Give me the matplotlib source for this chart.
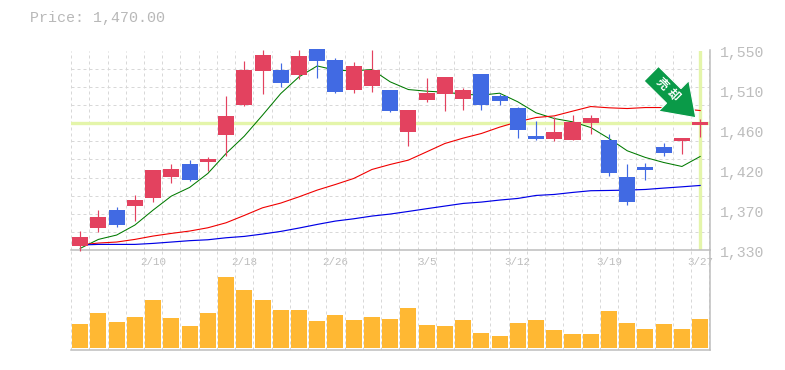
import numpy as np
import matplotlib
matplotlib.use("Agg")
import matplotlib.pyplot as plt
from matplotlib.patches import FancyArrow
from matplotlib.transforms import IdentityTransform, ScaledTranslation

# daily prices
opens = [1334.7, 1354.5, 1374.3, 1378.7, 1387.5, 1410.6, 1424.9, 1427.1, 1456.8, 1489.8, 1527.2, 1528.3,
         1522.8, 1551.4, 1539.3, 1506.3, 1510.7, 1506.3, 1460.1, 1495.3, 1501.9, 1496.4, 1523.9, 1499.7,
         1486.5, 1455.7, 1452.4, 1451.3, 1470.0, 1451.3, 1410.6, 1421.6, 1443.6, 1450.2, 1467.8]
closes = [1344.6, 1366.6, 1357.8, 1385.3, 1418.3, 1419.4, 1407.3, 1430.4, 1477.7, 1528.3, 1544.8, 1514.0,
          1543.7, 1538.2, 1504.1, 1532.7, 1528.3, 1483.2, 1484.3, 1503.0, 1520.6, 1506.3, 1489.8, 1494.2,
          1462.3, 1452.4, 1460.1, 1471.1, 1475.5, 1415.0, 1383.1, 1418.3, 1437.0, 1453.5, 1471.1]
highs = [1351.2, 1374.3, 1377.6, 1390.8, 1418.3, 1424.9, 1429.3, 1432.6, 1499.7, 1538.2, 1550.3, 1536.0,
         1550.3, 1551.4, 1541.5, 1537.1, 1550.3, 1506.3, 1484.3, 1519.5, 1520.6, 1508.5, 1523.9, 1501.9,
         1487.6, 1472.2, 1476.6, 1478.8, 1478.8, 1457.9, 1424.9, 1426.0, 1448.0, 1453.5, 1474.4]
lows = [1329.5, 1350.1, 1355.6, 1362.2, 1383.1, 1404.0, 1406.2, 1416.8, 1433.7, 1488.7, 1501.9, 1509.6,
        1518.4, 1519.5, 1503.0, 1503.0, 1504.1, 1482.1, 1444.7, 1493.1, 1483.2, 1484.3, 1484.3, 1489.8,
        1453.5, 1451.3, 1450.2, 1451.3, 1457.9, 1411.7, 1379.8, 1407.3, 1433.7, 1435.9, 1454.6]

ma_short = [1332.1, 1342.0, 1346.8, 1357.8, 1374.3, 1389.7, 1399.2, 1414.6, 1436.6, 1455.7, 1478.8, 1502.6,
            1521.0, 1533.0, 1528.3, 1527.6, 1529.0, 1515.5, 1507.0, 1505.2, 1504.1, 1501.9, 1500.8, 1503.0,
            1493.5, 1481.4, 1475.1, 1471.5, 1465.2, 1453.1, 1439.6, 1432.2, 1426.7, 1422.3, 1433.3]
ma_mid = [1335.8, 1338.0, 1339.1, 1342.0, 1345.7, 1348.6, 1351.2, 1354.8, 1360.3, 1368.4, 1376.8, 1382.0,
          1388.9, 1396.3, 1402.5, 1409.1, 1419.0, 1424.5, 1429.3, 1438.4, 1447.6, 1453.5, 1458.6, 1465.6,
          1471.5, 1476.2, 1478.0, 1483.2, 1488.3, 1486.9, 1486.1, 1487.2, 1487.2, 1485.8, 1483.9]
ma_long = [1335.8, 1336.5, 1336.5, 1336.5, 1337.6, 1339.1, 1340.6, 1341.6, 1343.8, 1345.3, 1347.9, 1350.8,
           1354.5, 1358.5, 1362.2, 1364.7, 1367.7, 1369.9, 1372.8, 1375.8, 1378.7, 1381.6, 1383.1, 1385.3,
           1387.1, 1390.4, 1391.5, 1393.7, 1395.6, 1395.9, 1396.3, 1397.0, 1398.5, 1399.9, 1401.4]

volumes = [24, 35, 26, 31, 48, 30, 22, 35, 71, 58, 48, 38, 38, 27, 33, 28, 31, 29,
           40, 23, 22, 28, 15, 12, 25, 28, 18, 14, 14, 37, 25, 19, 24, 19, 29]

date_idx = [4, 9, 14, 19, 24, 29, 34]
date_labels = ["2/10", "2/18", "2/26", "3/5", "3/12", "3/19", "3/27"]
price_ticks = [1330, 1374, 1418, 1462, 1506, 1550]
price_labels = ["1,330", "1,370", "1,420", "1,460", "1,510", "1,550"]
last_price = 1470

RED = "#e3425f"
BLUE = "#416ae3"
GRAY = "#bdbdbd"
GRID = "#d8d8d8"
HILITE = "#e4f5aa"
W, H = 785, 370

plt.rcParams["font.family"] = ["Liberation Mono", "DejaVu Sans Mono"]

fig = plt.figure(figsize=(W / 100, H / 100), dpi=100)
left, right = 70.7, 710.0
ax = fig.add_axes([left / W, 1 - 250.3 / H, (right - left) / W, 199.8 / H])
ax_vol = fig.add_axes([left / W, 1 - 350.3 / H, (right - left) / W, 100 / H])

x = np.arange(len(closes))
for a in (ax, ax_vol):
    a.set_xlim(-0.52, 34.54)
    a.set_xticks(np.arange(len(x) + 1) - 0.5, minor=True)
    a.grid(True, which="minor", axis="x", color=GRID, ls=(0, (3, 3)), lw=0.72)
    a.set_axisbelow(True)
    a.spines["top"].set_visible(False)
    a.spines["left"].set_visible(False)
    for s in ("bottom", "right"):
        a.spines[s].set_color(GRAY)
        a.spines[s].set_linewidth(1.1)
    a.tick_params(which="both", length=0)

# price panel
ax.set_ylim(1330, 1550)
ax.set_yticks(np.arange(1330, 1551, 20), minor=True)
ax.grid(True, which="minor", axis="y", color=GRID, ls=(0, (3, 3)), lw=0.72)
ax.yaxis.tick_right()
ax.set_yticks(price_ticks)
ax.set_yticklabels(price_labels, fontsize=10.7, color=GRAY)
ax.tick_params(axis="y", which="major", pad=7)
shift = ScaledTranslation(0, -1.5 / 100, fig.dpi_scale_trans)
for lab in ax.get_yticklabels():
    lab.set_transform(lab.get_transform() + shift)
ax.set_xticks(date_idx)
ax.set_xticklabels(date_labels, fontsize=7.8, color=GRAY)
ax.tick_params(axis="x", which="major", pad=5)

ax.axhline(last_price, color=HILITE, lw=2.4, zorder=1.5)
ax.axvline(x[-1], color=HILITE, lw=2.4, ymin=0.005, ymax=0.995, zorder=1.5)

ax.plot(x, ma_short, color="#007a00", lw=0.75, zorder=2)
ax.plot(x, ma_mid, color="#f00000", lw=0.8, zorder=2)
ax.plot(x, ma_long, color="#0000e6", lw=0.85, zorder=2)

colors = [RED if c >= o else BLUE for o, c in zip(opens, closes)]
ax.vlines(x, lows, highs, colors=colors, lw=0.85, zorder=3, clip_on=False)
body = np.array(closes) - np.array(opens)
ax.bar(x, np.abs(body), bottom=np.minimum(opens, closes), width=0.88, color=colors, zorder=3, clip_on=False)

# sell arrow pointing at the last candle, sized in pixels
tip = ax.transData.transform((33.76, 1476))
ax.add_patch(FancyArrow(tip[0] - 44.5, tip[1] + 44, 44.5, -44, width=20.5, head_width=43, head_length=31,
                        length_includes_head=True, transform=IdentityTransform(),
                        fc="#0a9a48", ec="white", lw=0.8, zorder=4, clip_on=False))
for ch, cx, cy in [("売", 31.9, 1513.7), ("却", 32.5, 1500.8)]:
    ax.text(cx, cy, ch, family=["Noto Sans CJK JP", "DejaVu Sans"], fontsize=8.5, fontweight="bold",
            color="white", rotation=-45, ha="center", va="center", zorder=5)

# volume panel, one unit is about a pixel
ax_vol.set_ylim(-2.3, 97.7)
ax_vol.set_yticks([])
ax_vol.set_xticks([])
ax_vol.bar(x, volumes, width=0.88, color="#ffb833", zorder=3)

ax_vol.patch.set_alpha(0)
fig.text(30 / W, 1 - 18 / H, "Price: 1,470.00", fontsize=10.8, color="#b8b8b8", ha="left", va="center")

fig.savefig("out.png", dpi=100, facecolor="white")
